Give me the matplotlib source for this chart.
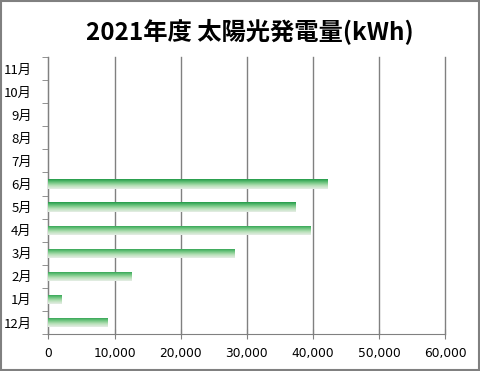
import numpy as np
import matplotlib.pyplot as plt
from matplotlib.patches import Rectangle
from matplotlib.colors import LinearSegmentedColormap
from matplotlib.ticker import FuncFormatter

plt.rcParams['font.family'] = ['Noto Sans CJK JP', 'DejaVu Sans']

months = ['12月', '1月', '2月', '3月', '4月', '5月', '6月', '7月', '8月', '9月', '10月', '11月']
kwh = [8970, 2010, 12600, 28180, 39680, 37410, 42250, 0, 0, 0, 0, 0]

fig = plt.figure(figsize=(4.8, 3.71), dpi=100)
ax = fig.add_axes([0.101, 0.0997, 0.826, 0.7463])

ypos = np.arange(len(months))
bars = ax.barh(ypos, kwh, height=0.4, color='none', edgecolor='none', zorder=3)

# green gradient: dark on top, fading downwards
cmap = LinearSegmentedColormap.from_list('g', ['#e6ede6', '#b8e0b8', '#6cc47e', '#239b48'])
grad = np.linspace(0, 1, 64).reshape(-1, 1)
for b in bars:
    if b.get_width() <= 0:
        continue
    x0, y0 = b.get_x(), b.get_y()
    im = ax.imshow(grad, cmap=cmap, aspect='auto', origin='lower',
                   extent=[x0, x0 + b.get_width(), y0, y0 + b.get_height()], zorder=3)
    im.set_clip_path(b)

ax.set_xlim(0, 60000)
ax.set_ylim(-0.5, len(months) - 0.5)
ax.set_xticks(np.arange(0, 60001, 10000))
ax.xaxis.set_major_formatter(FuncFormatter(lambda v, p: '{:,.0f}'.format(v)))
ax.grid(axis='x', color='#808080', lw=1, zorder=0)
for gl in ax.get_xgridlines():
    gl.set_clip_on(False)
ax.set_axisbelow(True)

ax.set_yticks(ypos)
ax.set_yticklabels(months, family=['Noto Sans CJK JP', 'DejaVu Sans'])
ax.set_yticks(np.arange(-0.5, len(months), 1), minor=True)
ax.tick_params(axis='y', which='major', length=0, pad=12, labelsize=9.5)
ax.tick_params(axis='y', which='minor', length=4, color='#808080', direction='out')
ax.tick_params(axis='x', length=7, direction='inout', color='#808080', labelsize=8.8, pad=6)
for t in ax.get_xticklabels():
    t.set_family('DejaVu Sans')

for s in ['top', 'right']:
    ax.spines[s].set_visible(False)
for s in ['left', 'bottom']:
    ax.spines[s].set_color('#808080')

fig.text(0.52, 0.915, '2021年度 太陽光発電量(kWh)', ha='center', va='center',
         fontsize=17.5, fontweight='bold')

fig.patches.append(Rectangle((0.002, 0.003), 0.995, 0.993, transform=fig.transFigure,
                             fill=False, edgecolor='#808080', lw=1.5))

fig.savefig('out.png', dpi=100)
